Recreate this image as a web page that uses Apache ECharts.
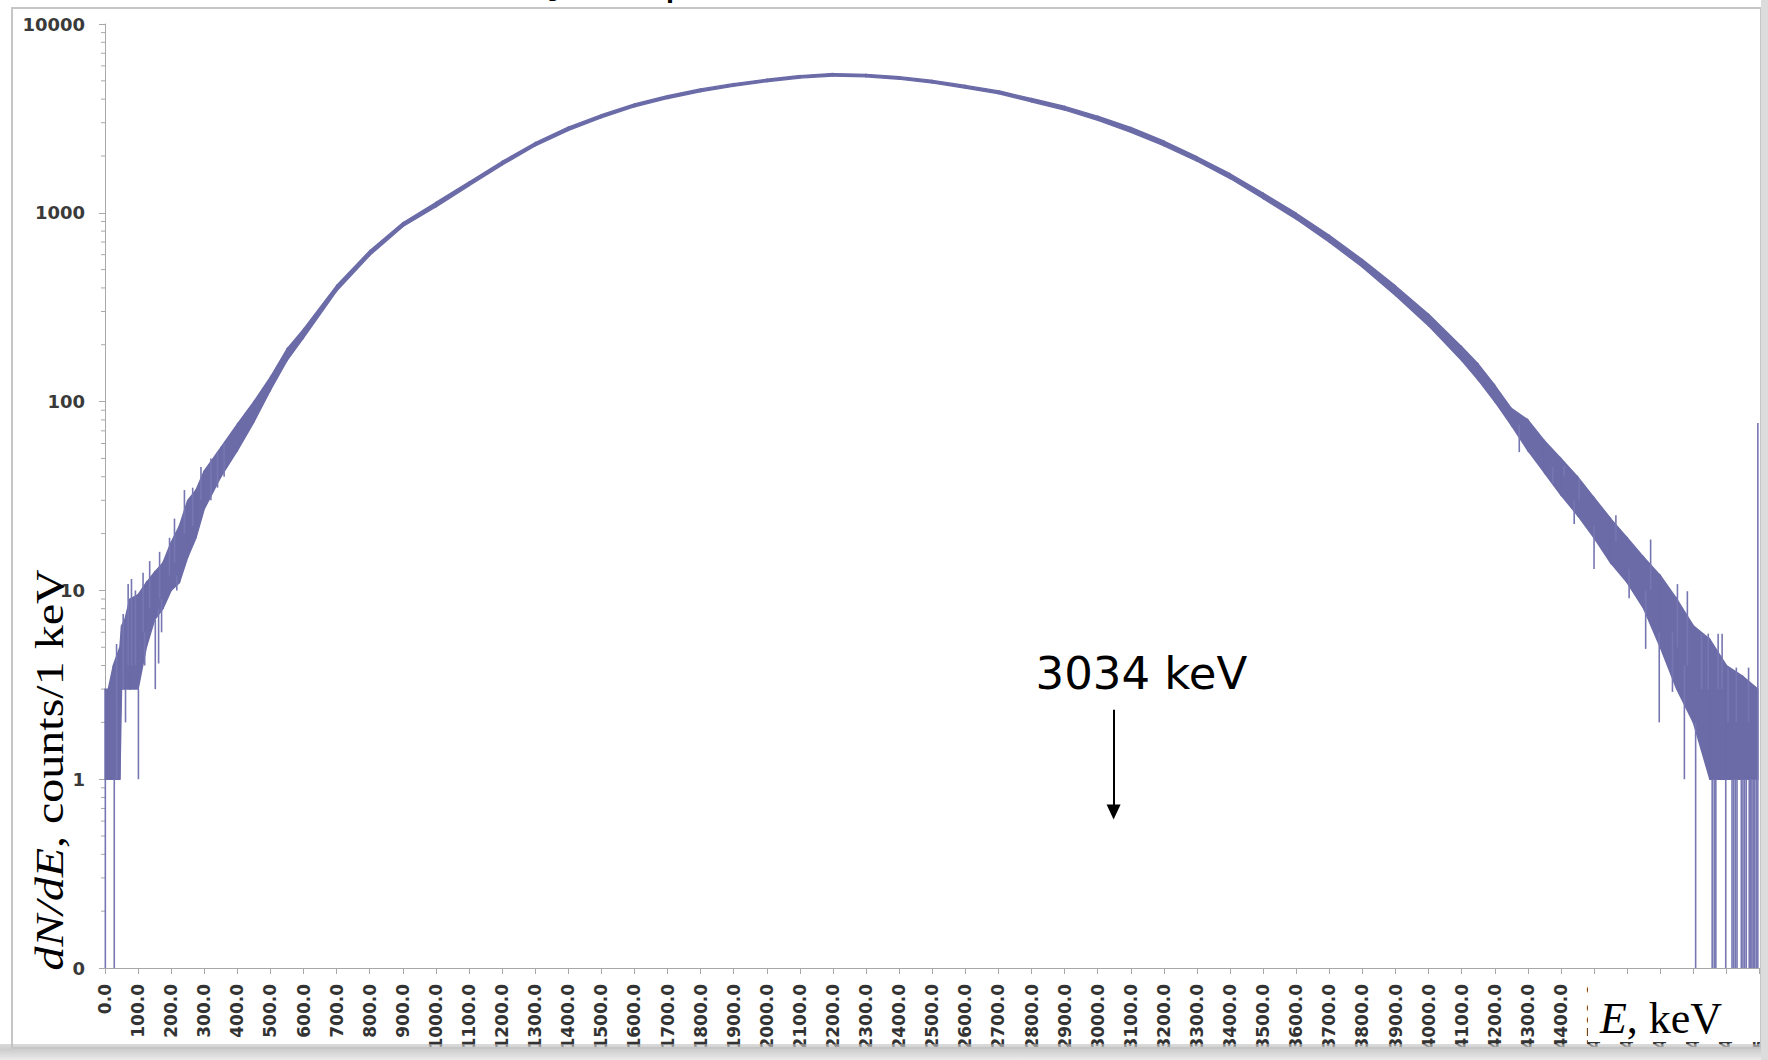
<!DOCTYPE html>
<html>
<head>
<meta charset="utf-8">
<title>dN/dE spectrum</title>
<script src="https://cdn.jsdelivr.net/npm/echarts@6/dist/echarts.min.js"></script>
<style>
  html, body { margin: 0; padding: 0; background: #fff; }
  #chart { width: 1768px; height: 1060px; }
</style>
</head>
<body>
<div id="chart"></div>
<script>
// energy grid (keV) and the low / high edge of the noisy 1 keV histogram band
const energy = [
  0, 10, 25, 45, 50, 60, 75, 100, 125, 150,
  175, 200, 225, 250, 275, 300, 350, 400, 450, 500,
  550, 600, 700, 800, 900, 1000, 1100, 1200, 1300, 1400,
  1500, 1600, 1700, 1800, 1900, 2000, 2100, 2200, 2300, 2400,
  2500, 2600, 2700, 2800, 2900, 3000, 3100, 3200, 3300, 3400,
  3500, 3600, 3700, 3800, 3900, 4000, 4100, 4150, 4200, 4250,
  4300, 4350, 4400, 4450, 4500, 4550, 4600, 4650, 4700, 4750,
  4800, 4850, 4900, 4950, 4995
];
const bandLow = [
  1, 1, 1, 1, 3, 3, 3, 3, 5, 7,
  8, 10, 11, 15, 19, 27, 40, 55, 78, 115,
  165, 218, 385, 595, 845, 1075, 1390, 1790, 2260, 2730,
  3190, 3640, 4030, 4380, 4680, 4950, 5170, 5300, 5250, 5100,
  4870, 4570, 4270, 3870, 3500, 3090, 2670, 2265, 1880, 1520,
  1190, 925, 700, 515, 365, 252, 165, 130, 100, 75,
  55, 42, 32, 25, 19, 14, 11, 8, 5, 3,
  2, 1, 1, 1, 1
];
const bandHigh = [
  3, 3, 4, 5, 6.5, 7, 9, 9.5, 11, 12.5,
  14, 18, 22, 30, 34, 43, 57, 76, 100, 135,
  190, 242, 412, 630, 885, 1135, 1455, 1870, 2350, 2840,
  3310, 3770, 4170, 4530, 4830, 5100, 5330, 5460, 5410, 5260,
  5030, 4730, 4430, 4030, 3660, 3250, 2830, 2400, 1980, 1610,
  1270, 995, 760, 565, 410, 290, 195, 158, 122, 92,
  80, 62, 50, 40, 31, 24, 19, 15, 12, 9,
  6.5, 5.5, 4, 3.5, 3
];

// single channels sticking out of the band (low 0 = empty channel)
const hairE = [
  1, 28, 35, 55, 62, 70, 80, 92, 101, 115, 120, 135, 152, 162, 165, 171, 195, 210, 217, 240, 265, 290, 320, 340, 360,
  4274, 4375, 4410, 4440, 4455, 4500, 4566, 4606, 4656, 4671, 4697, 4737, 4752, 4773, 4782, 4807, 4825, 4845,
  4857, 4863, 4868, 4875, 4887, 4898, 4905, 4917, 4922, 4927, 4930, 4932, 4945, 4950, 4955, 4960, 4967,
  4969, 4973, 4977, 4981, 4985, 4990, 4995
];
const hairLow = [
  0, 0, 1, 3, 2, 4, 4, 4, 1, 6, 4, 8, 3, 4.1, 9, 6, 12, 14, 10, 20, 22, 30, 30, 35, 40,
  54, 36.7, 40, 22.5, 30, 13, 18, 9.1, 4.9, 10, 2, 2.9, 5, 1, 4, 0, 3, 3,
  0, 0, 0, 3, 3, 0, 2, 0, 0, 0, 2, 0, 0, 0, 0, 0, 2,
  0, 0, 0, 0, 0, 0, 0
];
const hairHigh = [
  1, 1, 5.2, 7.5, 3, 10.8, 11.5, 10, 3, 12.4, 6, 14.3, 7, 8, 16, 9, 19, 24, 12, 34, 35, 45, 50, 54, 60,
  75, 45, 45.7, 30, 39, 22, 25, 13, 10, 18.6, 6, 6, 10.8, 4, 9.9, 2, 5.9, 5.9,
  1, 1, 1, 5.9, 5.9, 1, 3.9, 1, 1, 1, 3.9, 1, 1, 1, 1, 1, 3.9,
  1, 1, 1, 1, 1, 1, 77
];

// arrow annotation
const markText = '3034 keV';
const markE = 3048;
const markTop = 2.33;
const markBottom = 0.67;
const markTextAt = [3132, 3.65];

const Y_MIN = 0.1, Y_MAX = 10000;
const X_MIN = 0, X_MAX = 5000;
const COLOR = '#6b6ba8';
const AXIS_GREY = '#a8a8a8';

const bandData = energy.slice(0, -1).map((e, i) =>
  [e, bandLow[i], bandHigh[i], energy[i + 1], bandLow[i + 1], bandHigh[i + 1]]);
const hairData = hairE.map((e, i) => [e, hairLow[i], hairHigh[i]]);

// classic log minor ticks 2..9 in every decade
const minorTicks = [];
[0.1, 1, 10, 100, 1000].forEach(d => {
  for (let k = 2; k < 10; k++) minorTicks.push([X_MIN, +(d * k).toPrecision(3)]);
});

function renderBand(params, api) {
  const a = api.coord([api.value(0), api.value(2)]);
  const b = api.coord([api.value(3), api.value(5)]);
  const c = api.coord([api.value(3), api.value(4)]);
  const d = api.coord([api.value(0), api.value(1)]);
  return {
    type: 'polygon',
    shape: { points: [a, b, c, d] },
    style: { fill: COLOR, stroke: COLOR, lineWidth: 1.4 }
  };
}

function renderHair(params, api) {
  const lo = Math.max(api.value(1), Y_MIN); // empty channel drops to the axis
  const p = api.coord([api.value(0), lo]);
  const q = api.coord([api.value(0), api.value(2)]);
  return {
    type: 'line',
    shape: { x1: p[0], y1: p[1], x2: q[0], y2: q[1] },
    style: { stroke: '#7676b2', lineWidth: 1.6 }
  };
}

function renderMinorTick(params, api) {
  const p = api.coord([api.value(0), api.value(1)]);
  return {
    type: 'line',
    shape: { x1: p[0] - 4, y1: p[1], x2: p[0], y2: p[1] },
    style: { stroke: AXIS_GREY, lineWidth: 1 }
  };
}

const serif = 'Liberation Serif';

const option = {
  animation: false,
  backgroundColor: '#fff',
  grid: { left: 105, right: 8, top: 24, bottom: 92 },
  xAxis: {
    type: 'value',
    min: X_MIN,
    max: X_MAX,
    interval: 100,
    axisLine: { onZero: false, lineStyle: { color: AXIS_GREY } },
    axisTick: { length: 6, lineStyle: { color: AXIS_GREY } },
    splitLine: { show: false },
    axisLabel: {
      rotate: 90,
      margin: 16,
      fontSize: 17,
      fontWeight: 'bold',
      fontFamily: 'DejaVu Sans',
      color: '#333',
      formatter: v => v.toFixed(1)
    }
  },
  yAxis: {
    type: 'log',
    logBase: 10,
    min: Y_MIN,
    max: Y_MAX,
    axisLine: { show: true, lineStyle: { color: AXIS_GREY } },
    axisTick: { show: true, length: 6, lineStyle: { color: AXIS_GREY } },
    splitLine: { show: false },
    axisLabel: {
      margin: 20,
      fontSize: 18,
      fontWeight: 'bold',
      fontFamily: 'DejaVu Sans',
      color: '#3a3a3a',
      formatter: v => (v < 1 ? '0' : String(Math.round(v)))
    }
  },
  series: [
    {
      name: 'minor ticks',
      type: 'custom',
      silent: true,
      renderItem: renderMinorTick,
      encode: { x: 0, y: 1 },
      data: minorTicks
    },
    {
      name: 'spectrum',
      type: 'custom',
      renderItem: renderBand,
      encode: { x: [0, 3], y: [1, 2, 4, 5] },
      data: bandData,
      markLine: {
        silent: true,
        symbol: ['none', 'triangle'],
        symbolSize: [14, 15],
        lineStyle: { color: '#000', width: 2, type: 'solid' },
        label: { show: false },
        data: [[{ coord: [markE, markTop] }, { coord: [markE, markBottom] }]]
      },
      markPoint: {
        silent: true,
        symbol: 'circle',
        symbolSize: 0,
        label: {
          show: true,
          position: 'inside',
          formatter: markText,
          fontSize: 45,
          fontFamily: 'DejaVu Sans',
          color: '#000'
        },
        data: [{ coord: markTextAt }]
      }
    },
    {
      name: 'channels',
      type: 'custom',
      renderItem: renderHair,
      encode: { x: 0, y: 2 },
      data: hairData
    }
  ],
  graphic: [
    { // slide frame
      type: 'rect', silent: true, z: 100,
      shape: { x: 12, y: 8, width: 1749, height: 1040 },
      style: { fill: 'none', stroke: '#c6c6c6', lineWidth: 2 }
    },
    { // remnants of the cut-off title line above the picture
      type: 'text', silent: true, z: 100, x: 546, y: -2,
      style: { text: 'y,', fontSize: 44, fontFamily: 'DejaVu Sans', fill: '#000', verticalAlign: 'bottom' }
    },
    {
      type: 'text', silent: true, z: 100, x: 664, y: 0,
      style: { text: 'p', fontSize: 44, fontFamily: 'DejaVu Sans', fill: '#000', verticalAlign: 'bottom' }
    },
    { // y axis title
      type: 'text', silent: true, z: 100, x: 50, y: 770, rotation: Math.PI / 2, scaleX: 1.2,
      style: {
        text: '{i|dN/dE}{n|, counts/1 keV}',
        rich: {
          i: { fontStyle: 'italic', fontSize: 40, fontFamily: serif, fill: '#000' },
          n: { fontSize: 40, fontFamily: serif, fill: '#000' }
        },
        align: 'center',
        verticalAlign: 'middle'
      }
    },
    { // white box behind the x axis title
      type: 'rect', silent: true, z: 110,
      shape: { x: 1588, y: 982, width: 172, height: 60 },
      style: { fill: '#fff' }
    },
    {
      type: 'text', silent: true, z: 111, x: 1661, y: 1018,
      style: {
        text: '{i|E}{n|, keV}',
        rich: {
          i: { fontStyle: 'italic', fontSize: 44, fontFamily: serif, fill: '#000' },
          n: { fontSize: 44, fontFamily: serif, fill: '#000' }
        },
        align: 'center',
        verticalAlign: 'middle'
      }
    },
    { // bottom bevel of the slide picture
      type: 'rect', silent: true, z: 120,
      shape: { x: 0, y: 1044, width: 1768, height: 16 },
      style: {
        fill: new echarts.graphic.LinearGradient(0, 0, 0, 1, [
          { offset: 0, color: 'rgba(190,190,190,0.55)' },
          { offset: 0.35, color: 'rgba(200,200,200,0.9)' },
          { offset: 1, color: '#ececec' }
        ])
      }
    },
    { // right bevel
      type: 'rect', silent: true, z: 120,
      shape: { x: 1761, y: 0, width: 7, height: 1060 },
      style: { fill: '#dcdcdc' }
    }
  ]
};

const chart = echarts.init(document.getElementById('chart'), null, { renderer: 'svg' });
chart.setOption(option);
</script>
</body>
</html>
